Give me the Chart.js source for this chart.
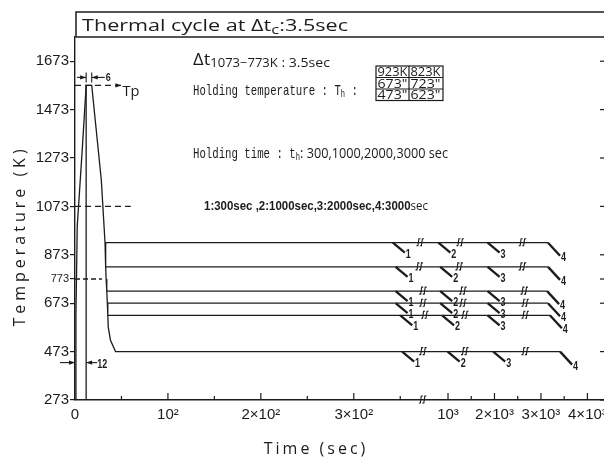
<!DOCTYPE html>
<html>
<head>
<meta charset="utf-8">
<title>Thermal cycle</title>
<script src="https://cdn.jsdelivr.net/npm/chart.js@4.4.1/dist/chart.umd.min.js"></script>
<style>
  html, body { margin: 0; padding: 0; background: #fff; overflow: hidden; }
  #box { position: relative; width: 620px; height: 457px; }
</style>
</head>
<body>
<div id="box"><canvas id="chart-cycle"></canvas></div>
<script>
// temperatures in K, times in s
var peakTemp = 1573;
var heatTime = [0, 1, 2.4, 8, 12];
var heatTemp = [273, 620, 990, 1320, 1573];
var peakHold = 6;
var coolTime = [18, 28.3, 30, 32.3, 33, 33.5, 34.2, 34.8, 35.3, 35.8, 38.2, 43.6];
var coolTemp = [1573, 1182, 1073, 923, 823, 773, 723, 673, 623, 573, 520, 473];
var refTemps = [1073, 773];

// holding temperatures and holding times (labels 1..4)
var holdTemps = [923, 823, 723, 673, 623, 473];
var holdTimes = [300, 1000, 2000, 3000];
var holdLabels = ['1', '2', '3', '4'];

// schematic positions along the broken time axis (axis units)
var holdEnd = [509, 509, 508, 509, 511, 522];
var mark1 = [342, 345, 345, 345, 350, 352];
var mark2 = [391, 393, 393, 393, 395, 401];
var mark3 = [444, 444, 444, 444, 444, 450];
var breaks = [[369, 412, 479], [368, 411, 479], [372, 415, 481], [372, 415, 482], [374, 417, 482], [372, 417, 482]];

// axis ticks
var yTicks = [273, 473, 673, 773, 873, 1073, 1273, 1473, 1673];
var xTickTimes = [0, 100, 200, 300, 1000, 2000, 3000, 4000];
var xTickLabels = ['0', '10²', '2×10²', '3×10²', '10³', '2×10³', '3×10³', '4×10³'];
var xMinorTimes = [50, 150, 250, 350, 1500, 2500, 3500];
var xBreak = 371.6;

// time axis: linear up to 350 s, then 20 s per unit after the break
function axisPos(t) {
  return t <= 350 ? t : 351.4 + t / 20;
}

var ink = '#1c1c1c';
var sans = '"Open Sans", "DejaVu Sans", sans-serif';
var mono = '"Liberation Mono", "DejaVu Sans Mono", monospace';
var narrow = '"Liberation Sans", Arial, sans-serif';

function pts(xs, ys) {
  return xs.map(function (v, i) { return { x: v, y: ys[i] }; });
}

var heatEnd = heatTime[heatTime.length - 1];
var cycle = pts(heatTime, heatTemp)
  .concat(pts(coolTime, coolTemp))
  .concat([{ x: holdEnd[5], y: 473 }]);

var datasets = [{ data: cycle }];
holdTemps.slice(0, 5).forEach(function (T, i) {
  var start = coolTime[coolTemp.indexOf(T)];
  datasets.push({ data: [{ x: start, y: T }, { x: holdEnd[i], y: T }] });
});
// extension line at the end of heating
datasets.push({ data: [{ x: heatEnd, y: 273 }, { x: heatEnd, y: peakTemp }] });
// dashed reference levels
datasets.push({ data: [{ x: 0, y: peakTemp }, { x: 50, y: peakTemp }], borderDash: [6, 4] });
datasets.push({ data: [{ x: 0, y: refTemps[0] }, { x: 60, y: refTemps[0] }], borderDash: [6, 4] });
datasets.push({ data: [{ x: 0, y: refTemps[1] }, { x: 29, y: refTemps[1] }], borderDash: [5, 3] });

datasets.forEach(function (d) {
  d.showLine = true;
  d.pointRadius = 0;
  d.borderColor = ink;
  d.borderWidth = 1.3;
  d.tension = 0;
});

function seg(ctx, x1, y1, x2, y2) {
  ctx.beginPath(); ctx.moveTo(x1, y1); ctx.lineTo(x2, y2); ctx.stroke();
}
function head(ctx, x, y, dir) {
  ctx.beginPath();
  ctx.moveTo(x, y);
  ctx.lineTo(x - dir * 6, y - 2.2);
  ctx.lineTo(x - dir * 6, y + 2.2);
  ctx.closePath();
  ctx.fill();
}
// draws text runs [text, font, dy], squeezed to a width if given
function runs(ctx, x, y, parts, fitW) {
  ctx.save();
  var w = 0;
  parts.forEach(function (p) { ctx.font = p[1]; w += ctx.measureText(p[0]).width; });
  ctx.translate(x, y);
  ctx.scale(fitW ? fitW / w : 1, 1);
  var cx = 0;
  parts.forEach(function (p) {
    ctx.font = p[1];
    ctx.fillText(p[0], cx, p[2] || 0);
    cx += ctx.measureText(p[0]).width;
  });
  ctx.restore();
}
// small double stroke marking a break in a line
function breakMark(ctx, bx, by) {
  ctx.save();
  ctx.lineWidth = 1.1;
  [0, 3.5].forEach(function (o) {
    ctx.beginPath();
    ctx.moveTo(bx + o - 1.5, by + 3);
    ctx.lineTo(bx + o, by + 3);
    ctx.lineTo(bx + o + 1, by - 4);
    ctx.lineTo(bx + o + 2.5, by - 4);
    ctx.stroke();
  });
  ctx.restore();
}

var overlay = {
  id: 'overlay',
  afterDraw: function (chart) {
    var ctx = chart.ctx, a = chart.chartArea, x = chart.scales.x, y = chart.scales.y;
    ctx.save();
    ctx.strokeStyle = ink;
    ctx.fillStyle = ink;
    ctx.textBaseline = 'alphabetic';
    ctx.textAlign = 'left';

    // title box on top of the frame
    ctx.lineWidth = 1.5;
    ctx.strokeRect(a.left + 1, 12, a.right - a.left + 20, a.top - 12);
    runs(ctx, 82, 31, [['Thermal cycle at Δt', '17px ' + sans], ['c', '13px ' + sans, 3], [':3.5sec', '17px ' + sans]], 266);

    // right frame ticks
    ctx.lineWidth = 1.2;
    yTicks.forEach(function (v) {
      var py = y.getPixelForValue(v);
      seg(ctx, a.right - 6, py, a.right, py);
    });
    // inward ticks on the time axis
    xTickTimes.forEach(function (t) {
      if (!t) return;
      var px = x.getPixelForValue(axisPos(t));
      seg(ctx, px, a.bottom, px, a.bottom - 7);
    });
    xMinorTimes.forEach(function (t) {
      var px = x.getPixelForValue(axisPos(t));
      seg(ctx, px, a.bottom, px, a.bottom - 4);
    });
    breakMark(ctx, x.getPixelForValue(xBreak), a.bottom);

    // axis titles
    ctx.letterSpacing = '3px';
    ctx.font = '16px ' + sans;
    ctx.textAlign = 'center';
    ctx.fillText('Time (sec)', 316, 454);
    ctx.save();
    ctx.letterSpacing = '4px';
    ctx.translate(25, 236);
    ctx.rotate(-Math.PI / 2);
    ctx.fillText('Temperature (K)', 0, 0);
    ctx.restore();
    ctx.letterSpacing = '0px';
    ctx.textAlign = 'left';

    // holding lines: break marks, leaders and their labels
    holdTemps.forEach(function (T, i) {
      var py = y.getPixelForValue(T);
      breaks[i].forEach(function (b) { breakMark(ctx, x.getPixelForValue(b), py); });
      var starts = [mark1[i], mark2[i], mark3[i], holdEnd[i]];
      ctx.lineWidth = 2.3;
      starts.forEach(function (u, k) {
        var px = x.getPixelForValue(u);
        var dy = k === 3 ? 13 : 10;
        seg(ctx, px, py, px + 12, py + dy);
        runs(ctx, px + 13, py + dy + 5, [[holdLabels[k], 'bold 12px ' + narrow]], 5);
      });
    });

    // peak: Tp marker and the hold-time dimension
    ctx.lineWidth = 1.1;
    var yp = y.getPixelForValue(peakTemp);
    var xTp = x.getPixelForValue(50);
    head(ctx, xTp, yp, 1);
    runs(ctx, xTp + 1, yp + 11, [['Tp', '15px ' + sans]], 17);
    var xs = x.getPixelForValue(heatEnd), xe = x.getPixelForValue(heatEnd + peakHold);
    var yd = yp - 8;
    seg(ctx, xs, yp - 13, xs, yp - 3);
    seg(ctx, xe, yp - 13, xe, yp - 3);
    seg(ctx, a.left + 2, yd, xs, yd);
    head(ctx, xs, yd, 1);
    seg(ctx, xe + 13, yd, xe, yd);
    head(ctx, xe, yd, -1);
    runs(ctx, xe + 14, yd + 4, [[String(peakHold), 'bold 11px ' + narrow]], 5);

    // heating time dimension
    var y12 = y.getPixelForValue(473) + 11;
    var x12 = x.getPixelForValue(heatEnd);
    seg(ctx, a.left - 15, y12, a.left, y12);
    head(ctx, a.left, y12, 1);
    seg(ctx, x12 + 11, y12, x12, y12);
    head(ctx, x12, y12, -1);
    runs(ctx, x12 + 11, y12 + 5, [[String(heatEnd), 'bold 12px ' + narrow]], 10);

    // notes
    runs(ctx, 193, 65, [['Δt', '17px ' + sans], ['1073−773K', '12px ' + sans, 2], [' : 3.5sec', '13px ' + sans, 2]], 137);
    runs(ctx, 193, 95, [['Holding temperature : T', '15px ' + mono], ['h', '10px ' + mono, 2], [' :', '15px ' + mono]], 165);
    runs(ctx, 193, 158, [['Holding time : t', '15px ' + mono], ['h', '10px ' + mono, 2]], 107);
    runs(ctx, 300, 158, [[': ' + holdTimes.join(','), '14px ' + sans], [' sec', '14px ' + sans]], 148);
    var legend = holdTimes.map(function (t, k) { return holdLabels[k] + ':' + t; });
    runs(ctx, 204, 210, [[legend[0] + 'sec ,' + legend[1] + 'sec,' + legend[2] + 'sec,' + legend[3], 'bold 12px ' + narrow], ['sec', '12px ' + sans]], 224);

    // holding temperature table
    var tx = [376, 409, 443], ty = [66, 77.5, 89, 100.5];
    ctx.lineWidth = 1.2;
    ctx.strokeRect(tx[0], ty[0], tx[2] - tx[0], ty[3] - ty[0]);
    seg(ctx, tx[0], ty[1], tx[2], ty[1]);
    seg(ctx, tx[0], ty[2], tx[2], ty[2]);
    seg(ctx, tx[1], ty[0], tx[1], ty[3]);
    var cells = [[holdTemps[0] + 'K', holdTemps[1] + 'K'], [holdTemps[3] + '"', holdTemps[2] + '"'], [holdTemps[5] + '"', holdTemps[4] + '"']];
    cells.forEach(function (row, r) {
      row.forEach(function (txt, c) {
        runs(ctx, tx[c] + 1.5, ty[r + 1] - 1.5, [[txt, '13px ' + sans]], 30);
      });
    });
    ctx.restore();
  }
};

new Chart(document.getElementById('chart-cycle'), {
  type: 'scatter',
  data: { datasets: datasets },
  options: {
    responsive: true,
    maintainAspectRatio: false,
    animation: false,
    layout: { padding: { top: 37, right: 14, bottom: 0, left: 0 } },
    plugins: { legend: { display: false }, tooltip: { enabled: false } },
    scales: {
      x: {
        type: 'linear',
        min: 0,
        max: 571.4,
        afterBuildTicks: function (s) { s.ticks = xTickTimes.map(function (t) { return { value: axisPos(t) }; }); },
        afterFit: function (s) { s.height = 57; },
        grid: { display: false, drawTicks: false },
        border: { display: true, color: ink, width: 1.4 },
        ticks: {
          autoSkip: false,
          maxRotation: 0,
          padding: 6,
          color: ink,
          font: { family: narrow, size: 15 },
          callback: function (v, i) { return xTickLabels[i]; }
        }
      },
      y: {
        type: 'linear',
        min: 273,
        max: 1773,
        afterBuildTicks: function (s) { s.ticks = yTicks.map(function (v) { return { value: v }; }); },
        afterFit: function (s) { s.width = 75; },
        grid: { display: true, drawOnChartArea: false, drawTicks: true, tickLength: 5, color: ink, lineWidth: 1.2 },
        border: { display: true, color: ink, width: 1.4 },
        ticks: {
          autoSkip: false,
          padding: 1,
          color: ink,
          font: function (c) { return { family: narrow, size: c.tick && c.tick.value === 773 ? 11 : 15 }; },
          callback: function (v) { return String(v); }
        }
      }
    }
  },
  plugins: [overlay]
});
</script>
</body>
</html>
